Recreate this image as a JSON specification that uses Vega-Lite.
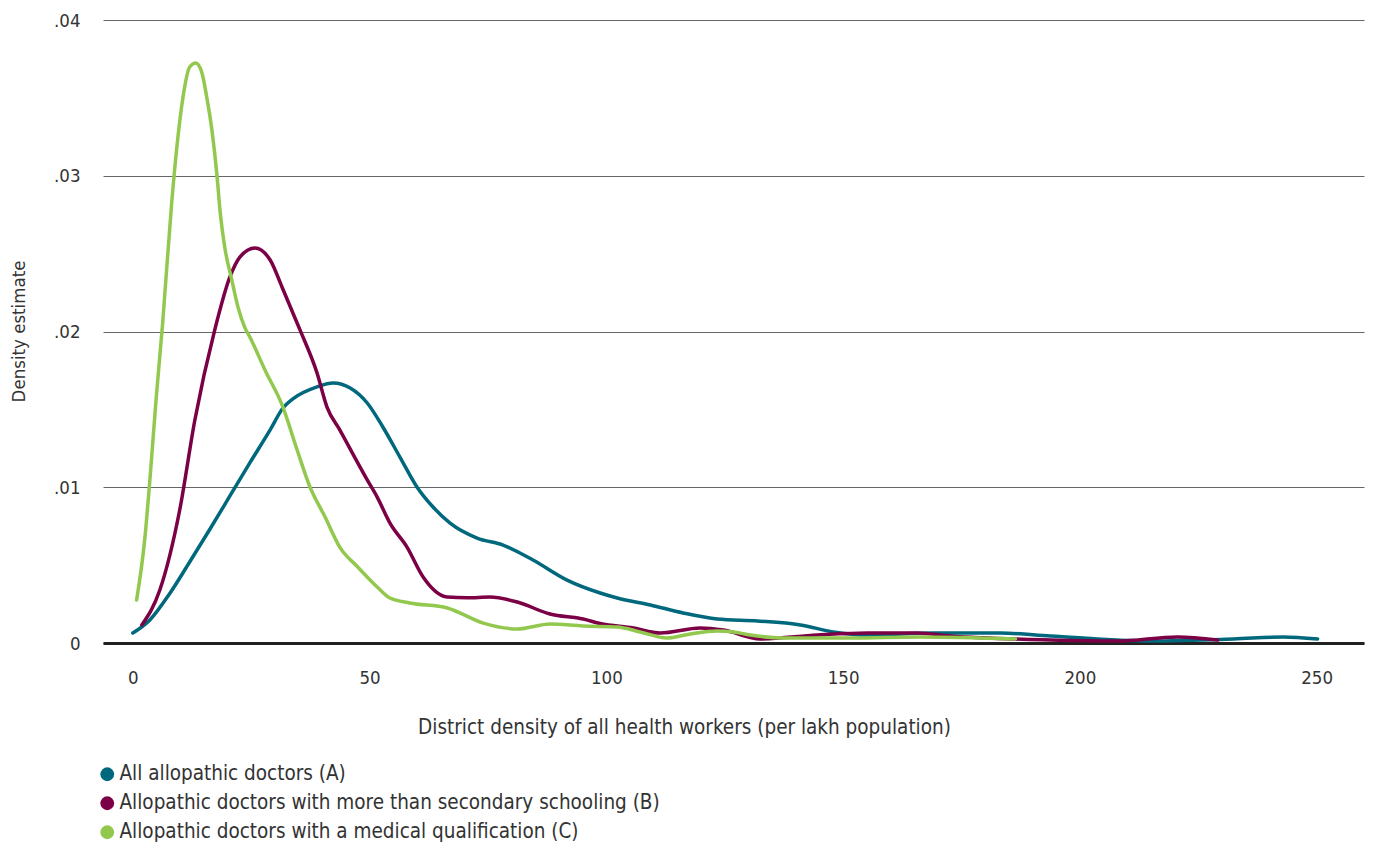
{
  "$schema": "https://vega.github.io/schema/vega-lite/v6.json",
  "width": 1261,
  "height": 623,
  "autosize": {"type": "none"},
  "padding": {"left": 103, "top": 20, "right": 9, "bottom": 202},
  "background": "white",
  "config": {
    "view": {"stroke": null},
    "font": "DejaVu Sans Condensed, DejaVu Sans, sans-serif"
  },
  "datasets": {
    "curves": [
      {"x": 0, "d": 0.00064, "s": "All allopathic doctors (A)"},
      {"x": 3.6, "d": 0.00148, "s": "All allopathic doctors (A)"},
      {"x": 7.8, "d": 0.00318, "s": "All allopathic doctors (A)"},
      {"x": 12.0, "d": 0.00520, "s": "All allopathic doctors (A)"},
      {"x": 16.3, "d": 0.00732, "s": "All allopathic doctors (A)"},
      {"x": 20.5, "d": 0.00944, "s": "All allopathic doctors (A)"},
      {"x": 24.7, "d": 0.01156, "s": "All allopathic doctors (A)"},
      {"x": 29.0, "d": 0.01368, "s": "All allopathic doctors (A)"},
      {"x": 31.7, "d": 0.01509, "s": "All allopathic doctors (A)"},
      {"x": 33.8, "d": 0.01567, "s": "All allopathic doctors (A)"},
      {"x": 38.9, "d": 0.01644, "s": "All allopathic doctors (A)"},
      {"x": 42.3, "d": 0.01669, "s": "All allopathic doctors (A)"},
      {"x": 45.9, "d": 0.01637, "s": "All allopathic doctors (A)"},
      {"x": 49.5, "d": 0.01541, "s": "All allopathic doctors (A)"},
      {"x": 52.8, "d": 0.01387, "s": "All allopathic doctors (A)"},
      {"x": 56.4, "d": 0.01194, "s": "All allopathic doctors (A)"},
      {"x": 60.0, "d": 0.01002, "s": "All allopathic doctors (A)"},
      {"x": 63.4, "d": 0.00873, "s": "All allopathic doctors (A)"},
      {"x": 67.0, "d": 0.00770, "s": "All allopathic doctors (A)"},
      {"x": 72.7, "d": 0.00674, "s": "All allopathic doctors (A)"},
      {"x": 78.2, "d": 0.00629, "s": "All allopathic doctors (A)"},
      {"x": 84.5, "d": 0.00533, "s": "All allopathic doctors (A)"},
      {"x": 91.7, "d": 0.00404, "s": "All allopathic doctors (A)"},
      {"x": 98.7, "d": 0.00321, "s": "All allopathic doctors (A)"},
      {"x": 102.3, "d": 0.00289, "s": "All allopathic doctors (A)"},
      {"x": 109.3, "d": 0.00244, "s": "All allopathic doctors (A)"},
      {"x": 116.2, "d": 0.00193, "s": "All allopathic doctors (A)"},
      {"x": 123.4, "d": 0.00154, "s": "All allopathic doctors (A)"},
      {"x": 131.9, "d": 0.00141, "s": "All allopathic doctors (A)"},
      {"x": 141.0, "d": 0.00116, "s": "All allopathic doctors (A)"},
      {"x": 147.9, "d": 0.00071, "s": "All allopathic doctors (A)"},
      {"x": 155.1, "d": 0.00051, "s": "All allopathic doctors (A)"},
      {"x": 169.1, "d": 0.00064, "s": "All allopathic doctors (A)"},
      {"x": 183.2, "d": 0.00064, "s": "All allopathic doctors (A)"},
      {"x": 193.8, "d": 0.00045, "s": "All allopathic doctors (A)"},
      {"x": 214.9, "d": 0.00013, "s": "All allopathic doctors (A)"},
      {"x": 232.5, "d": 0.00026, "s": "All allopathic doctors (A)"},
      {"x": 243.0, "d": 0.00039, "s": "All allopathic doctors (A)"},
      {"x": 250.2, "d": 0.00026, "s": "All allopathic doctors (A)"},

      {"x": 1.9, "d": 0.00116, "s": "Allopathic doctors with more than secondary schooling (B)"},
      {"x": 5.7, "d": 0.00340, "s": "Allopathic doctors with more than secondary schooling (B)"},
      {"x": 9.9, "d": 0.00854, "s": "Allopathic doctors with more than secondary schooling (B)"},
      {"x": 13.1, "d": 0.01432, "s": "Allopathic doctors with more than secondary schooling (B)"},
      {"x": 17.3, "d": 0.02010, "s": "Allopathic doctors with more than secondary schooling (B)"},
      {"x": 20.5, "d": 0.02350, "s": "Allopathic doctors with more than secondary schooling (B)"},
      {"x": 22.6, "d": 0.02478, "s": "Allopathic doctors with more than secondary schooling (B)"},
      {"x": 25.8, "d": 0.02536, "s": "Allopathic doctors with more than secondary schooling (B)"},
      {"x": 29.0, "d": 0.02459, "s": "Allopathic doctors with more than secondary schooling (B)"},
      {"x": 31.5, "d": 0.02286, "s": "Allopathic doctors with more than secondary schooling (B)"},
      {"x": 33.8, "d": 0.02119, "s": "Allopathic doctors with more than secondary schooling (B)"},
      {"x": 35.3, "d": 0.02010, "s": "Allopathic doctors with more than secondary schooling (B)"},
      {"x": 38.9, "d": 0.01734, "s": "Allopathic doctors with more than secondary schooling (B)"},
      {"x": 41.0, "d": 0.01515, "s": "Allopathic doctors with more than secondary schooling (B)"},
      {"x": 43.7, "d": 0.01368, "s": "Allopathic doctors with more than secondary schooling (B)"},
      {"x": 49.5, "d": 0.01047, "s": "Allopathic doctors with more than secondary schooling (B)"},
      {"x": 51.6, "d": 0.00937, "s": "Allopathic doctors with more than secondary schooling (B)"},
      {"x": 54.3, "d": 0.00770, "s": "Allopathic doctors with more than secondary schooling (B)"},
      {"x": 57.9, "d": 0.00616, "s": "Allopathic doctors with more than secondary schooling (B)"},
      {"x": 61.3, "d": 0.00424, "s": "Allopathic doctors with more than secondary schooling (B)"},
      {"x": 66.4, "d": 0.00295, "s": "Allopathic doctors with more than secondary schooling (B)"},
      {"x": 70.6, "d": 0.00290, "s": "Allopathic doctors with more than secondary schooling (B)"},
      {"x": 75.4, "d": 0.00295, "s": "Allopathic doctors with more than secondary schooling (B)"},
      {"x": 81.2, "d": 0.00263, "s": "Allopathic doctors with more than secondary schooling (B)"},
      {"x": 88.1, "d": 0.00186, "s": "Allopathic doctors with more than secondary schooling (B)"},
      {"x": 95.1, "d": 0.00154, "s": "Allopathic doctors with more than secondary schooling (B)"},
      {"x": 98.7, "d": 0.00125, "s": "Allopathic doctors with more than secondary schooling (B)"},
      {"x": 105.7, "d": 0.00096, "s": "Allopathic doctors with more than secondary schooling (B)"},
      {"x": 111.4, "d": 0.00064, "s": "Allopathic doctors with more than secondary schooling (B)"},
      {"x": 119.8, "d": 0.00096, "s": "Allopathic doctors with more than secondary schooling (B)"},
      {"x": 124.7, "d": 0.00083, "s": "Allopathic doctors with more than secondary schooling (B)"},
      {"x": 132.5, "d": 0.00026, "s": "Allopathic doctors with more than secondary schooling (B)"},
      {"x": 144.5, "d": 0.00051, "s": "Allopathic doctors with more than secondary schooling (B)"},
      {"x": 155.1, "d": 0.00064, "s": "Allopathic doctors with more than secondary schooling (B)"},
      {"x": 165.7, "d": 0.00064, "s": "Allopathic doctors with more than secondary schooling (B)"},
      {"x": 172.7, "d": 0.00045, "s": "Allopathic doctors with more than secondary schooling (B)"},
      {"x": 193.8, "d": 0.00019, "s": "Allopathic doctors with more than secondary schooling (B)"},
      {"x": 207.9, "d": 0.00013, "s": "Allopathic doctors with more than secondary schooling (B)"},
      {"x": 220.6, "d": 0.00039, "s": "Allopathic doctors with more than secondary schooling (B)"},
      {"x": 229.1, "d": 0.00019, "s": "Allopathic doctors with more than secondary schooling (B)"},

      {"x": 0.8, "d": 0.00276, "s": "Allopathic doctors with a medical qualification (C)"},
      {"x": 2.5, "d": 0.00661, "s": "Allopathic doctors with a medical qualification (C)"},
      {"x": 3.6, "d": 0.01047, "s": "Allopathic doctors with a medical qualification (C)"},
      {"x": 4.9, "d": 0.01560, "s": "Allopathic doctors with a medical qualification (C)"},
      {"x": 6.3, "d": 0.02055, "s": "Allopathic doctors with a medical qualification (C)"},
      {"x": 8.2, "d": 0.02825, "s": "Allopathic doctors with a medical qualification (C)"},
      {"x": 9.3, "d": 0.03185, "s": "Allopathic doctors with a medical qualification (C)"},
      {"x": 10.6, "d": 0.03506, "s": "Allopathic doctors with a medical qualification (C)"},
      {"x": 12.0, "d": 0.03698, "s": "Allopathic doctors with a medical qualification (C)"},
      {"x": 13.3, "d": 0.03724, "s": "Allopathic doctors with a medical qualification (C)"},
      {"x": 14.6, "d": 0.03660, "s": "Allopathic doctors with a medical qualification (C)"},
      {"x": 15.6, "d": 0.03506, "s": "Allopathic doctors with a medical qualification (C)"},
      {"x": 16.7, "d": 0.03294, "s": "Allopathic doctors with a medical qualification (C)"},
      {"x": 17.8, "d": 0.02992, "s": "Allopathic doctors with a medical qualification (C)"},
      {"x": 18.4, "d": 0.02780, "s": "Allopathic doctors with a medical qualification (C)"},
      {"x": 19.4, "d": 0.02543, "s": "Allopathic doctors with a medical qualification (C)"},
      {"x": 20.9, "d": 0.02331, "s": "Allopathic doctors with a medical qualification (C)"},
      {"x": 22.2, "d": 0.02157, "s": "Allopathic doctors with a medical qualification (C)"},
      {"x": 23.7, "d": 0.02022, "s": "Allopathic doctors with a medical qualification (C)"},
      {"x": 24.7, "d": 0.01965, "s": "Allopathic doctors with a medical qualification (C)"},
      {"x": 27.9, "d": 0.01753, "s": "Allopathic doctors with a medical qualification (C)"},
      {"x": 31.7, "d": 0.01515, "s": "Allopathic doctors with a medical qualification (C)"},
      {"x": 34.7, "d": 0.01239, "s": "Allopathic doctors with a medical qualification (C)"},
      {"x": 37.4, "d": 0.01002, "s": "Allopathic doctors with a medical qualification (C)"},
      {"x": 40.6, "d": 0.00809, "s": "Allopathic doctors with a medical qualification (C)"},
      {"x": 43.7, "d": 0.00616, "s": "Allopathic doctors with a medical qualification (C)"},
      {"x": 47.5, "d": 0.00488, "s": "Allopathic doctors with a medical qualification (C)"},
      {"x": 51.6, "d": 0.00360, "s": "Allopathic doctors with a medical qualification (C)"},
      {"x": 54.3, "d": 0.00289, "s": "Allopathic doctors with a medical qualification (C)"},
      {"x": 58.5, "d": 0.00257, "s": "Allopathic doctors with a medical qualification (C)"},
      {"x": 66.4, "d": 0.00225, "s": "Allopathic doctors with a medical qualification (C)"},
      {"x": 74.0, "d": 0.00128, "s": "Allopathic doctors with a medical qualification (C)"},
      {"x": 81.2, "d": 0.00090, "s": "Allopathic doctors with a medical qualification (C)"},
      {"x": 88.1, "d": 0.00122, "s": "Allopathic doctors with a medical qualification (C)"},
      {"x": 95.1, "d": 0.00109, "s": "Allopathic doctors with a medical qualification (C)"},
      {"x": 102.3, "d": 0.00103, "s": "Allopathic doctors with a medical qualification (C)"},
      {"x": 107.1, "d": 0.00071, "s": "Allopathic doctors with a medical qualification (C)"},
      {"x": 112.8, "d": 0.00032, "s": "Allopathic doctors with a medical qualification (C)"},
      {"x": 117.7, "d": 0.00058, "s": "Allopathic doctors with a medical qualification (C)"},
      {"x": 123.4, "d": 0.00077, "s": "Allopathic doctors with a medical qualification (C)"},
      {"x": 126.8, "d": 0.00071, "s": "Allopathic doctors with a medical qualification (C)"},
      {"x": 130.4, "d": 0.00051, "s": "Allopathic doctors with a medical qualification (C)"},
      {"x": 137.4, "d": 0.00032, "s": "Allopathic doctors with a medical qualification (C)"},
      {"x": 151.5, "d": 0.00032, "s": "Allopathic doctors with a medical qualification (C)"},
      {"x": 166.3, "d": 0.00039, "s": "Allopathic doctors with a medical qualification (C)"},
      {"x": 186.4, "d": 0.00026, "s": "Allopathic doctors with a medical qualification (C)"}
    ]
  },
  "data": {"name": "curves"},
  "mark": {"type": "line", "strokeWidth": 3.5, "interpolate": "monotone", "strokeCap": "round", "strokeJoin": "round"},
  "encoding": {
    "x": {
      "field": "x",
      "type": "quantitative",
      "scale": {"domain": [-6.3, 260], "nice": false, "zero": false},
      "axis": {
        "values": [0, 50, 100, 150, 200, 250],
        "title": "District density of all health workers (per lakh population)",
        "titleFontSize": 20.5,
        "titleFontWeight": "normal",
        "titleColor": "#333333",
        "titleX": 581,
        "titleY": 84,
        "titleAlign": "center",
        "titleBaseline": "middle",
        "labelFontSize": 18.5,
        "labelColor": "#333333",
        "labelPadding": 25,
        "ticks": false,
        "tickSize": 0,
        "grid": false,
        "domain": true,
        "domainColor": "#222222",
        "domainWidth": 3
      }
    },
    "y": {
      "field": "d",
      "type": "quantitative",
      "scale": {"domain": [0, 0.04], "nice": false},
      "axis": {
        "values": [0, 0.01, 0.02, 0.03, 0.04],
        "labelExpr": "datum.value == 0 ? '0' : replace(format(datum.value, '.2f'), '0.', '.')",
        "title": "Density estimate",
        "titleFontSize": 18.5,
        "titleFontWeight": "normal",
        "titleColor": "#333333",
        "titleX": -85,
        "titleY": 311,
        "titleAngle": -90,
        "titleAlign": "center",
        "titleBaseline": "middle",
        "labelFontSize": 18.5,
        "labelColor": "#333333",
        "labelPadding": 23,
        "ticks": false,
        "tickSize": 0,
        "domain": false,
        "grid": true,
        "gridColor": "#666666",
        "gridWidth": 1
      }
    },
    "color": {
      "field": "s",
      "type": "nominal",
      "sort": ["All allopathic doctors (A)", "Allopathic doctors with more than secondary schooling (B)", "Allopathic doctors with a medical qualification (C)"],
      "scale": {
        "domain": ["All allopathic doctors (A)", "Allopathic doctors with more than secondary schooling (B)", "Allopathic doctors with a medical qualification (C)"],
        "range": ["#00687D", "#7B0046", "#93C84E"]
      },
      "legend": {
        "title": null,
        "orient": "none",
        "legendX": -6,
        "legendY": 744,
        "direction": "vertical",
        "symbolType": "circle",
        "symbolSize": 190,
        "symbolStrokeWidth": 0,
        "symbolFillColor": "black",
        "labelFontSize": 20.5,
        "labelColor": "#333333",
        "labelOffset": 2,
        "rowPadding": 8,
        "labelLimit": 800,
        "encode": {
          "symbols": {
            "update": {
              "fill": {"scale": "color", "field": "value"},
              "fillOpacity": {"value": 1},
              "strokeWidth": {"value": 0}
            }
          }
        }
      }
    }
  }
}
